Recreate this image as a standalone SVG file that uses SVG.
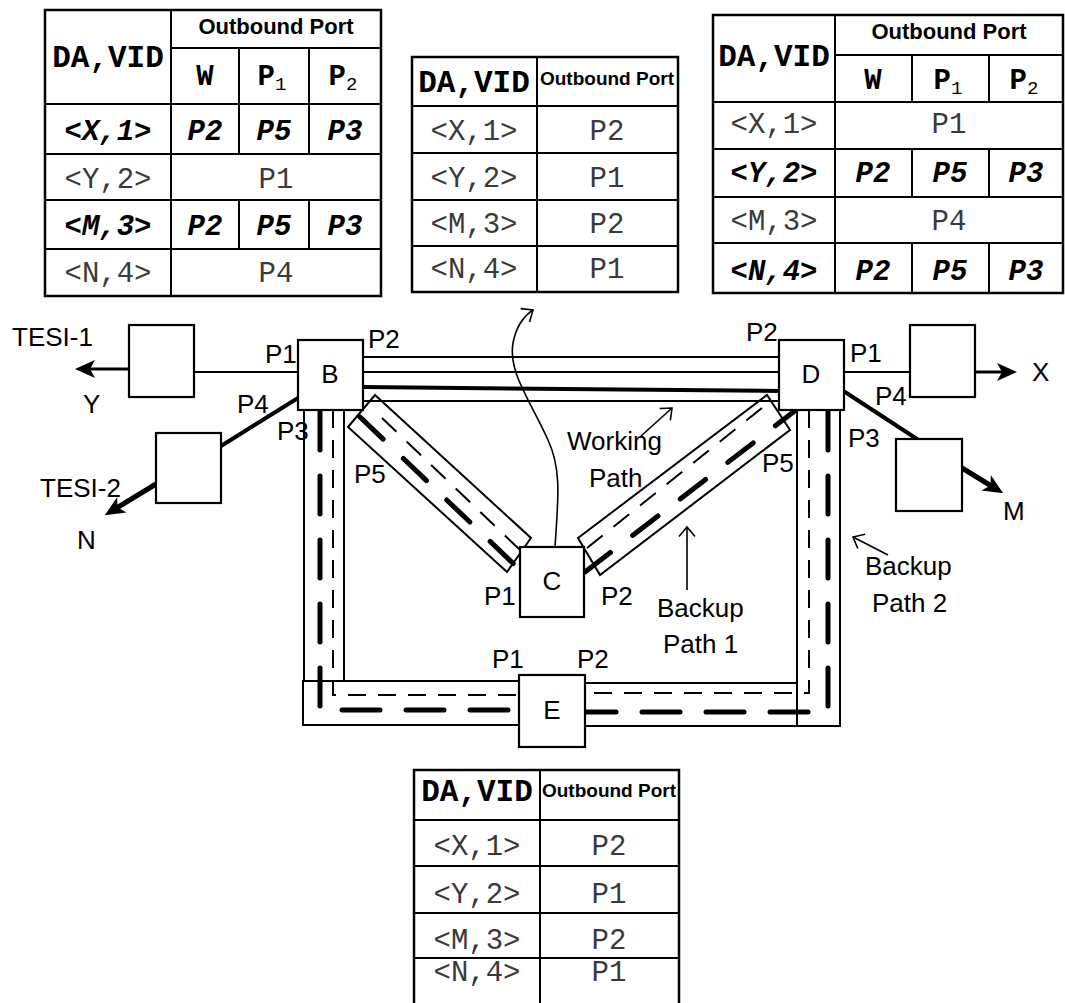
<svg xmlns="http://www.w3.org/2000/svg" width="1065" height="1003" viewBox="0 0 1065 1003">
<defs>
<style>
.t{font-family:"Liberation Sans",Arial,sans-serif;font-size:26px;fill:#000}
.tc{font-family:"Liberation Sans",Arial,sans-serif;font-size:26px;fill:#000;text-anchor:middle}
.hd{font-family:"Liberation Sans",Arial,sans-serif;font-weight:bold;font-size:22px;text-anchor:middle;fill:#000}
.hs{font-family:"Liberation Sans",Arial,sans-serif;font-weight:bold;font-size:19px;text-anchor:middle;fill:#000}
.mh{font-family:"Liberation Mono","Courier New",monospace;font-weight:bold;font-size:31px;text-anchor:middle;fill:#000}
.mb{font-family:"Liberation Mono","Courier New",monospace;font-weight:bold;font-size:29px;text-anchor:middle;fill:#000}
.mr{font-family:"Liberation Mono","Courier New",monospace;font-size:29px;text-anchor:middle;fill:#3a3a3a}
.mbi{font-family:"Liberation Mono","Courier New",monospace;font-weight:bold;font-style:italic;font-size:29px;text-anchor:middle;fill:#000}
.sub{font-weight:normal;font-size:19px}
.tb{fill:none;stroke:#000;stroke-width:2.5}
.gl{fill:none;stroke:#000;stroke-width:2}
.box{fill:#fff;stroke:#000;stroke-width:2.2}
.thin{fill:none;stroke:#000;stroke-width:2}
.hair{fill:none;stroke:#000;stroke-width:1.6}
.thick{fill:none;stroke:#000;stroke-width:4;stroke-linecap:round}
.dthin{fill:none;stroke:#000;stroke-width:2;stroke-dasharray:18 12}
.dthick{fill:none;stroke:#000;stroke-width:5;stroke-linecap:round;stroke-dasharray:38 26}
.ddthin{fill:none;stroke:#000;stroke-width:2;stroke-dasharray:20 14}
.ddthick{fill:none;stroke:#000;stroke-width:5;stroke-linecap:round;stroke-dasharray:32 28}
</style>
<marker id="af" viewBox="0 0 20 20" refX="8" refY="10" markerWidth="20" markerHeight="20" markerUnits="userSpaceOnUse" orient="auto" overflow="visible">
<path d="M0,1 L20,10 L0,19 L5,10 z" fill="#000"/>
</marker>
<marker id="ao" viewBox="0 0 10 16" refX="9.5" refY="8" markerWidth="10" markerHeight="16" markerUnits="userSpaceOnUse" orient="auto" overflow="visible">
<path d="M0,0 L9.5,8 L0,16" fill="none" stroke="#000" stroke-width="1.6"/>
</marker>
</defs>
<rect width="1065" height="1003" fill="#fff"/>

<!-- Tables -->
<g id="table-B">
<rect class="tb" x="45" y="10" width="336" height="286"/>
<path class="gl" d="M171,10 V296 M171,48 H381 M45,104 H381 M45,154 H381 M45,200 H381 M45,249 H381 M239,48 V154 M309,48 V154 M239,200 V249 M309,200 V249"/>
<text class="mh" x="108" y="67">DA,VID</text>
<text class="hd" x="276" y="34">Outbound Port</text>
<text class="mb" x="205" y="85">W</text>
<text class="mb" x="272" y="85">P<tspan class="sub" dy="5">1</tspan></text>
<text class="mb" x="343" y="85">P<tspan class="sub" dy="5">2</tspan></text>
<text class="mbi" x="108" y="140">&lt;X,1&gt;</text>
<text class="mbi" x="205" y="140">P2</text>
<text class="mbi" x="274" y="140">P5</text>
<text class="mbi" x="345" y="140">P3</text>
<text class="mr" x="108" y="188">&lt;Y,2&gt;</text>
<text class="mr" x="276" y="188">P1</text>
<text class="mbi" x="108" y="235">&lt;M,3&gt;</text>
<text class="mbi" x="205" y="235">P2</text>
<text class="mbi" x="274" y="235">P5</text>
<text class="mbi" x="345" y="235">P3</text>
<text class="mr" x="108" y="282">&lt;N,4&gt;</text>
<text class="mr" x="276" y="282">P4</text>
</g>

<g id="table-C">
<rect class="tb" x="412" y="57" width="266" height="235"/>
<path class="gl" d="M537,57 V292 M412,106 H678 M412,153 H678 M412,200 H678 M412,246 H678"/>
<text class="mh" x="474" y="92">DA,VID</text>
<text class="hs" x="607" y="85">Outbound Port</text>
<text class="mr" x="474" y="140">&lt;X,1&gt;</text>
<text class="mr" x="607" y="140">P2</text>
<text class="mr" x="474" y="187">&lt;Y,2&gt;</text>
<text class="mr" x="607" y="187">P1</text>
<text class="mr" x="474" y="233">&lt;M,3&gt;</text>
<text class="mr" x="607" y="233">P2</text>
<text class="mr" x="474" y="278">&lt;N,4&gt;</text>
<text class="mr" x="607" y="278">P1</text>
</g>

<g id="table-D">
<rect class="tb" x="713" y="15" width="350" height="278"/>
<path class="gl" d="M835,15 V293 M835,55 H1063 M713,102 H1063 M713,149 H1063 M713,197 H1063 M713,243 H1063 M912,55 V102 M989,55 V102 M912,149 V197 M989,149 V197 M912,243 V293 M989,243 V293"/>
<text class="mh" x="774" y="66">DA,VID</text>
<text class="hd" x="949" y="39">Outbound Port</text>
<text class="mb" x="873" y="89">W</text>
<text class="mb" x="948" y="89">P<tspan class="sub" dy="5">1</tspan></text>
<text class="mb" x="1024" y="89">P<tspan class="sub" dy="5">2</tspan></text>
<text class="mr" x="774" y="133">&lt;X,1&gt;</text>
<text class="mr" x="949" y="133">P1</text>
<text class="mbi" x="774" y="182">&lt;Y,2&gt;</text>
<text class="mbi" x="873" y="182">P2</text>
<text class="mbi" x="950" y="182">P5</text>
<text class="mbi" x="1026" y="182">P3</text>
<text class="mr" x="774" y="230">&lt;M,3&gt;</text>
<text class="mr" x="949" y="230">P4</text>
<text class="mbi" x="774" y="280">&lt;N,4&gt;</text>
<text class="mbi" x="873" y="280">P2</text>
<text class="mbi" x="950" y="280">P5</text>
<text class="mbi" x="1026" y="280">P3</text>
</g>

<g id="table-E">
<rect class="tb" x="414" y="770" width="265" height="245"/>
<path class="gl" d="M540,770 V1003 M414,820 H679 M414,866 H679 M414,913 H679 M414,958 H679"/>
<text class="mh" x="477" y="801">DA,VID</text>
<text class="hs" x="609" y="797">Outbound Port</text>
<text class="mr" x="477" y="855">&lt;X,1&gt;</text>
<text class="mr" x="609" y="855">P2</text>
<text class="mr" x="477" y="903">&lt;Y,2&gt;</text>
<text class="mr" x="609" y="903">P1</text>
<text class="mr" x="477" y="949">&lt;M,3&gt;</text>
<text class="mr" x="609" y="949">P2</text>
<text class="mr" x="477" y="981">&lt;N,4&gt;</text>
<text class="mr" x="609" y="981">P1</text>
</g>

<!-- Connectors -->
<g id="connectors">
<path class="thin" d="M363,357 H779 M363,372 H779 M363,401 H779"/>
<path class="thick" d="M362,387 L779,391"/>
<path class="thin" d="M304,410 V681 M344,410 V681"/>
<rect class="thin" x="303" y="681" width="216" height="44"/>
<rect class="thin" x="797" y="410" width="43" height="316"/>
<rect class="thin" x="585" y="683" width="212" height="43"/>
<polygon class="thin" points="375,395 531,538 507,572 348,427"/>
<polygon class="thin" points="578,538 767,395 790,430 600,575"/>
<path class="dthin" d="M333,410 V695 H519"/>
<path class="dthick" d="M320,412 V710 H519"/>
<path class="dthin" d="M809,410 V693 H585"/>
<path class="dthick" d="M828,412 V712 H585"/>
<path class="ddthin" d="M382,418 L520,550"/>
<path class="ddthick" d="M360,417 L520,570"/>
<path class="ddthin" d="M587,548 L772,400"/>
<path class="ddthick" d="M585,572 L796,410"/>
<path class="thin" d="M194,372 H298" stroke-width="2.5"/>
<path class="thin" d="M844,372 H910" stroke-width="2.5"/>
<path class="thick" d="M298,398 L221,446"/>
<path class="thick" d="M845,392 L917,439"/>
<path d="M129,369 H87" stroke="#000" stroke-width="3" marker-end="url(#af)"/>
<path d="M975,372 H1005" stroke="#000" stroke-width="3" marker-end="url(#af)"/>
<path d="M156,484 L115,509" stroke="#000" stroke-width="5" marker-end="url(#af)"/>
<path d="M962,468 L993,487" stroke="#000" stroke-width="5" marker-end="url(#af)"/>
<path class="hair" d="M555,547 C558,500 562,470 548,440 C530,400 508,372 513,343 C516,327 524,316 533,310" marker-end="url(#ao)"/>
<path class="hair" d="M640,437 L672,408" marker-end="url(#ao)"/>
<path class="hair" d="M687,590 V527" marker-end="url(#ao)"/>
<path class="hair" d="M888,555 L853,537" marker-end="url(#ao)"/>
</g>

<!-- Nodes -->
<g id="node-TESI1">
<rect class="box" x="129" y="325" width="65" height="72"/>
</g>
<g id="node-TESI2">
<rect class="box" x="156" y="433" width="65" height="70"/>
</g>
<g id="node-B">
<rect class="box" x="298" y="340" width="65" height="70"/>
<text class="tc" x="330" y="383">B</text>
</g>
<g id="node-D">
<rect class="box" x="779" y="340" width="65" height="70"/>
<text class="tc" x="811" y="383">D</text>
</g>
<g id="node-X">
<rect class="box" x="910" y="325" width="65" height="72"/>
</g>
<g id="node-M">
<rect class="box" x="896" y="439" width="66" height="72"/>
</g>
<g id="node-C">
<rect class="box" x="520" y="547" width="64" height="70"/>
<text class="tc" x="552" y="590">C</text>
</g>
<g id="node-E">
<rect class="box" x="519" y="675" width="66" height="72"/>
<text class="tc" x="552" y="719">E</text>
</g>

<!-- Labels -->
<g id="labels">
<text class="t" x="12" y="346">TESI-1</text>
<text class="t" x="83" y="413">Y</text>
<text class="t" x="40" y="497">TESI-2</text>
<text class="t" x="77" y="549">N</text>
<text class="t" x="265" y="363">P1</text>
<text class="t" x="368" y="348">P2</text>
<text class="t" x="237" y="413">P4</text>
<text class="t" x="277" y="440">P3</text>
<text class="t" x="354" y="483">P5</text>
<text class="t" x="484" y="605">P1</text>
<text class="t" x="601" y="605">P2</text>
<text class="t" x="567" y="450">Working</text>
<text class="t" x="589" y="487">Path</text>
<text class="t" x="657" y="617">Backup</text>
<text class="t" x="663" y="653">Path 1</text>
<text class="t" x="746" y="341">P2</text>
<text class="t" x="850" y="362">P1</text>
<text class="t" x="1032" y="381">X</text>
<text class="t" x="875" y="405">P4</text>
<text class="t" x="848" y="447">P3</text>
<text class="t" x="762" y="472">P5</text>
<text class="t" x="1003" y="520">M</text>
<text class="t" x="865" y="575">Backup</text>
<text class="t" x="872" y="612">Path 2</text>
<text class="t" x="492" y="668">P1</text>
<text class="t" x="577" y="668">P2</text>
</g>
</svg>
